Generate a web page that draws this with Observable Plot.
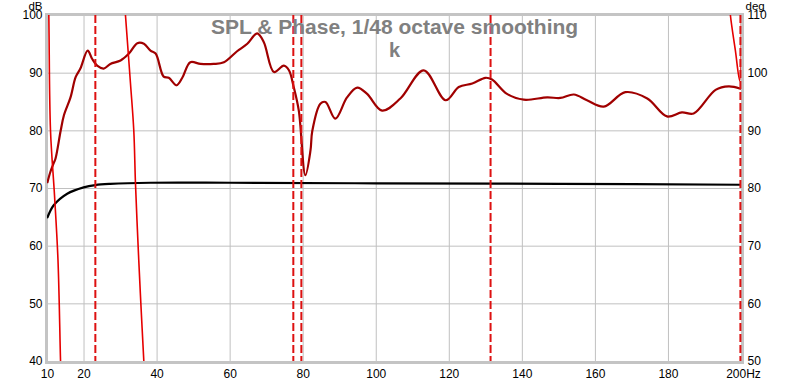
<!DOCTYPE html>
<html><head><meta charset="utf-8">
<script src="https://cdn.jsdelivr.net/npm/d3@7"></script>
<script src="https://cdn.jsdelivr.net/npm/@observablehq/plot@0.6"></script>
<style>html,body{margin:0;padding:0;background:#fff}</style>
</head><body><div id="chart"></div>
<script>
// SPL trace (dark red), Hz / dB
const splFreq = [10.0,10.8,11.7,12.2,13.6,14.5,16.3,17.7,19.0,21.0,22.2,23.6,25.4,27.2,30.0,32.3,34.6,36.4,38.2,39.6,41.8,43.2,45.3,46.9,49.1,51.9,55.5,58.3,61.9,64.7,67.4,69.2,72.0,74.7,76.1,77.4,78.8,80.6,82.0,82.5,84.7,86.1,88.8,92.0,94.8,97.5,101.6,106.6,113.0,119.0,122.6,126.3,129.9,131.7,135.8,140.4,146.8,150.4,154.1,157.7,162.3,168.2,174.2,179.6,183.7,186.9,192.9,196.5,199.7];
const splDb   = [71.1,72.9,74.4,75.2,80.0,82.7,85.8,89.3,90.8,93.9,92.5,91.3,90.8,91.6,92.2,93.4,95.2,95.1,93.9,93.4,89.4,89.2,87.9,89.2,91.9,91.6,91.6,91.9,93.8,95.1,96.9,95.4,90.2,91.3,90.5,87.6,83.5,72.3,76.6,80.0,84.7,85.0,82.1,85.8,87.5,86.4,83.5,85.6,90.5,85.3,87.6,88.2,89.2,88.9,86.4,85.4,85.8,85.7,86.3,85.3,84.2,86.7,85.6,82.5,83.2,83.0,87.1,87.7,87.3];
// Black reference trace, Hz / dB
const refFreq = [10.0,11.7,15.4,19.9,23.1,27.2,38.2,60,100,150,200];
const refDb   = [65.0,67.1,69.1,70.2,70.6,70.8,71.0,71.0,70.9,70.8,70.65];
// Phase trace (bright red), Hz / deg, wrapped segments
const phaseFreq = [10.0,10.36,10.82,11.92,12.87,13.56,13.8,  31.0,31.35,32.72,33.62,34.09,34.99,35.65,36.36,36.6,  196.5,196.97,198.33,199.51,200.0];
const phaseDeg  = [122,110,90.1,78.8,67.6,50.3,45,           113,110,98.2,90.1,80.8,67.5,58.9,50.2,47,          114,110,103.9,98.7,112];
const phaseSeg  = ["a","a","a","a","a","a","a",              "b","b","b","b","b","b","b","b","b",                "c","c","c","c","c"];
// Vertical dashed markers, Hz
const markerFreqs = [23.1, 77.3, 79.5, 131.3, 199.7];
// Ticks
const xTicks = [10,20,40,60,80,100,120,140,160,180];
const xLastTick = [200];
const dbTicks = [40,50,60,70,80,90,100];
const phaseOffset = 10; // deg = dB + 10 on this chart

const spl = splFreq.map((f,i)=>({f, v: splDb[i]}));
const ref = refFreq.map((f,i)=>({f, v: refDb[i]}));
const phase = phaseFreq.map((f,i)=>({f, v: phaseDeg[i] - phaseOffset, s: phaseSeg[i]}));

const font = "'Liberation Sans', Arial, sans-serif";
const chart = Plot.plot({
  width: 800, height: 382,
  marginLeft: 47, marginRight: 59, marginTop: 15, marginBottom: 21,
  style: {fontFamily: font, fontSize: "12px", color: "#000", background: "#fff"},
  x: {domain: [10, 200]},
  y: {domain: [40, 100]},
  marks: [
    Plot.gridX([20,40,60,80,100,120,140,160,180], {stroke: "#c0c0c0", strokeOpacity: 1}),
    Plot.gridY([50,60,70,80,90], {stroke: "#c0c0c0", strokeOpacity: 1}),
    Plot.frame({stroke: "#c4c4c4", strokeWidth: 3, inset: -1}),
    Plot.axisX({ticks: xTicks, tickSize: 0, tickPadding: 8, label: null, fill: "#000"}),
    Plot.axisX({ticks: xLastTick, tickSize: 0, tickPadding: 8, label: null, dx: 2, tickFormat: d => d + "Hz"}),
    Plot.axisY({ticks: dbTicks, tickSize: 0, tickPadding: 5, label: null}),
    Plot.axisY({ticks: dbTicks, anchor: "right", tickSize: 0, tickPadding: 6, label: null, tickFormat: d => String(d + phaseOffset)}),
    Plot.text(["dB"], {frameAnchor: "top-left", dx: -5, dy: -5.5, textAnchor: "end", lineAnchor: "bottom", fontSize: 11.5}),
    Plot.text(["deg"], {frameAnchor: "top-right", dx: 4, dy: -5.5, textAnchor: "start", lineAnchor: "bottom", fontSize: 11.5}),
    Plot.line(ref, {x: "f", y: "v", stroke: "#000", strokeWidth: 2.2, curve: "catmull-rom", clip: true}),
    Plot.line(spl, {x: "f", y: "v", stroke: "#a00000", strokeWidth: 2.2, curve: "catmull-rom", clip: true}),
    Plot.line(phase, {x: "f", y: "v", z: "s", stroke: "#e60000", strokeWidth: 1.6, curve: "catmull-rom", clip: true}),
    Plot.ruleX(markerFreqs, {stroke: "#dd1111", strokeWidth: 2, strokeDasharray: "8,3"}),
    Plot.text(["SPL & Phase, 1/48 octave smoothing"], {frameAnchor: "top", dy: 18.5, lineAnchor: "bottom", fontSize: 21, fontWeight: "bold", fill: "#808080"}),
    Plot.text(["k"], {frameAnchor: "top", dy: 41, lineAnchor: "bottom", fontSize: 20, fontWeight: "bold", fill: "#808080"})
  ]
});
document.getElementById("chart").appendChild(chart);
</script>
</body></html>
